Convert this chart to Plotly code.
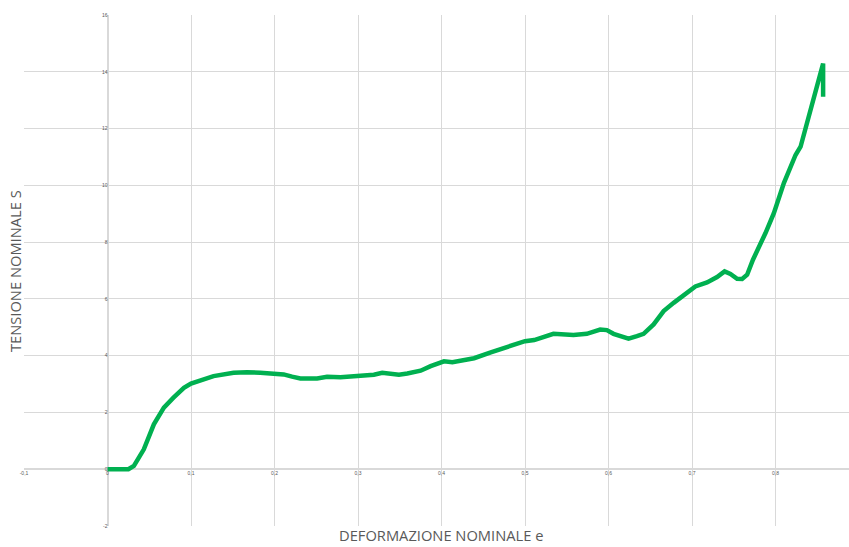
import plotly.graph_objects as go

# Nominal strain (e) and nominal stress (S) readings
deformazione = [
    0.000, 0.010, 0.020, 0.025, 0.0316, 0.0435, 0.0555, 0.0675, 0.079, 0.0915,
    0.100, 0.111, 0.127, 0.151, 0.167, 0.183, 0.200, 0.211, 0.221, 0.231,
    0.251, 0.263, 0.279, 0.300, 0.319, 0.329, 0.339, 0.349, 0.359, 0.375,
    0.387, 0.403, 0.413, 0.431, 0.439, 0.459, 0.479, 0.500, 0.511, 0.534,
    0.558, 0.574, 0.590, 0.598, 0.606, 0.614, 0.624, 0.634, 0.642, 0.654,
    0.666, 0.678, 0.690, 0.704, 0.718, 0.730, 0.739, 0.746, 0.754, 0.760,
    0.766, 0.773, 0.788, 0.798, 0.810, 0.824, 0.830, 0.838, 0.848, 0.854,
    0.857, 0.857,
]
tensione = [
    0.00, 0.00, 0.00, 0.00, 0.12, 0.70, 1.58, 2.17, 2.52, 2.87,
    3.02, 3.14, 3.28, 3.40, 3.42, 3.40, 3.37, 3.34, 3.26, 3.20,
    3.20, 3.26, 3.24, 3.30, 3.33, 3.40, 3.37, 3.33, 3.37, 3.47,
    3.63, 3.80, 3.77, 3.89, 3.91, 4.12, 4.30, 4.51, 4.55, 4.77,
    4.73, 4.77, 4.92, 4.90, 4.77, 4.71, 4.60, 4.69, 4.77, 5.10,
    5.57, 5.86, 6.12, 6.44, 6.58, 6.77, 6.97, 6.88, 6.71, 6.70,
    6.85, 7.38, 8.32, 9.02, 10.08, 11.07, 11.36, 12.19, 13.24, 13.94,
    14.29, 13.12,
]

x_ticks = [-0.1, 0, 0.1, 0.2, 0.3, 0.4, 0.5, 0.6, 0.7, 0.8]
x_labels = ["-0,1", "0", "0,1", "0,2", "0,3", "0,4", "0,5", "0,6", "0,7", "0,8"]
y_ticks = [-2, 0, 2, 4, 6, 8, 10, 12, 14, 16]
y_labels = ["-2", "0", "2", "4", "6", "8", "10", "12", "14", "16"]

x_range = [-0.1, 0.888]
y_range = [-2, 16]

grid = "#d9d9d9"
text_grey = "#595959"

fig = go.Figure()
fig.add_trace(go.Scatter(
    x=deformazione, y=tensione, mode="lines",
    line=dict(color="#00b050", width=4.5),
    hoverinfo="skip", showlegend=False,
))

fig.update_layout(
    width=849, height=547,
    margin=dict(l=24, r=0, t=15, b=21),
    paper_bgcolor="white", plot_bgcolor="white",
    separators=",.",
    xaxis=dict(
        range=x_range, tickvals=x_ticks, ticktext=x_labels,
        anchor="free", position=(0 - y_range[0]) / (y_range[1] - y_range[0]),
        showgrid=True, gridcolor=grid, gridwidth=1,
        zeroline=True, zerolinecolor=grid, zerolinewidth=2,
        showline=False, ticks="",
        tickfont=dict(family="Liberation Sans", size=5, color=text_grey),
    ),
    yaxis=dict(
        range=y_range, tickvals=y_ticks, ticktext=y_labels,
        anchor="free", position=(0 - x_range[0]) / (x_range[1] - x_range[0]),
        showgrid=True, gridcolor=grid, gridwidth=1,
        zeroline=True, zerolinecolor=grid, zerolinewidth=2,
        showline=False, ticks="",
        tickfont=dict(family="Liberation Sans", size=5, color=text_grey),
    ),
    annotations=[
        dict(text="DEFORMAZIONE NOMINALE e", xref="paper", yref="paper",
             x=0.505, y=-0.0391, xanchor="center", yanchor="bottom",
             showarrow=False, borderpad=0,
             font=dict(family="Open Sans", size=14.7, color=text_grey)),
        dict(text="TENSIONE NOMINALE S", xref="paper", yref="paper",
             x=-0.0109, y=0.499, xanchor="center", yanchor="middle",
             textangle=-90, showarrow=False,
             font=dict(family="Open Sans", size=14.7, color=text_grey)),
    ],
)

fig.write_html("out.html")
